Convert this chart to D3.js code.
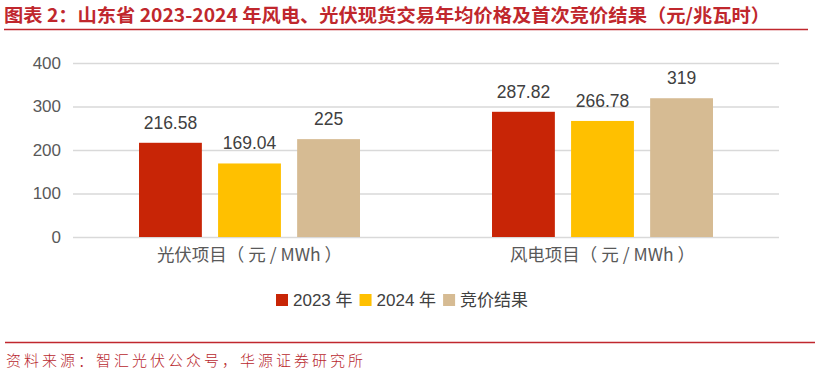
<!DOCTYPE html>
<html>
<head>
<meta charset="utf-8">
<script src="https://cdn.jsdelivr.net/npm/d3@7"></script>
<style>
  body { margin: 0; background: #fff; }
  svg { display: block; }
</style>
</head>
<body>
<div id="chart"></div>
<script>
// 数据
const categories = ['光伏项目（ 元 / MWh ）', '风电项目（ 元 / MWh ）'];
const seriesNames = ['2023 年', '2024 年', '竞价结果'];
const values2023 = [216.58, 287.82];
const values2024 = [169.04, 266.78];
const valuesBid = [225, 319];
const labels2023 = ['216.58', '287.82'];
const labels2024 = ['169.04', '266.78'];
const labelsBid = ['225', '319'];
const yTicks = [0, 100, 200, 300, 400];
const colors = ['#c82506', '#ffc000', '#d6bb93'];

const width = 815, height = 375;
const svg = d3.select('#chart').append('svg')
    .attr('width', width)
    .attr('height', height);

const cjk = '"Noto Sans CJK SC", "Noto Sans", sans-serif';
const num = '"Liberation Sans", Arial, "Noto Sans CJK SC", sans-serif';

// 标题
svg.append('text')
    .attr('x', 4).attr('y', 22)
    .attr('fill', '#c0272d')
    .attr('textLength', 766)
    .attr('lengthAdjust', 'spacingAndGlyphs')
    .style('font-family', cjk)
    .style('font-weight', 'bold')
    .style('font-size', '18.5px')
    .text('图表 2：山东省 2023-2024 年风电、光伏现货交易年均价格及首次竞价结果（元/兆瓦时）');
svg.append('line')
    .attr('x1', 4).attr('x2', 808).attr('y1', 29.5).attr('y2', 29.5)
    .attr('stroke', '#c0272d').attr('stroke-width', 1.5);

// 比例尺
const x0 = d3.scaleBand().domain(categories).range([73, 779]).padding(0);
const x1 = d3.scaleBand().domain(seriesNames)
    .range([x0.bandwidth() * 0.187, x0.bandwidth() * 0.813])
    .paddingInner(0.205).paddingOuter(0);
const y = d3.scaleLinear().domain([0, 400]).range([237, 63]);

// 网格线
svg.append('g')
    .selectAll('line')
    .data(yTicks)
    .join('line')
    .attr('x1', 73).attr('x2', 779)
    .attr('y1', d => y(d) + 0.5).attr('y2', d => y(d) + 0.5)
    .attr('stroke', '#d9d9d9').attr('stroke-width', 1.3);

// Y 轴
const yAxis = svg.append('g')
    .attr('transform', 'translate(61,0)')
    .call(d3.axisLeft(y).tickValues(yTicks).tickSize(0).tickPadding(0));
yAxis.select('.domain').remove();
yAxis.selectAll('text')
    .attr('fill', '#595959')
    .style('font-family', num)
    .style('font-size', '17px');

// X 轴
const xAxis = svg.append('g')
    .attr('transform', 'translate(0,237)')
    .call(d3.axisBottom(x0).tickSize(0).tickPadding(12));
xAxis.select('.domain').remove();
xAxis.selectAll('text')
    .attr('fill', '#595959')
    .style('font-family', cjk)
    .style('font-size', '17.5px');

// 柱子
const series = [
    { name: seriesNames[0], values: values2023, labels: labels2023, color: colors[0] },
    { name: seriesNames[1], values: values2024, labels: labels2024, color: colors[1] },
    { name: seriesNames[2], values: valuesBid, labels: labelsBid, color: colors[2] }
];

const groups = svg.append('g')
    .selectAll('g')
    .data(categories)
    .join('g')
    .attr('transform', d => `translate(${x0(d)},0)`);

groups.each(function (cat, ci) {
    const g = d3.select(this);
    series.forEach(s => {
        g.append('rect')
            .attr('x', x1(s.name))
            .attr('y', y(s.values[ci]))
            .attr('width', x1.bandwidth())
            .attr('height', y(0) - y(s.values[ci]))
            .attr('fill', s.color);
        g.append('text')
            .attr('x', x1(s.name) + x1.bandwidth() / 2)
            .attr('y', y(s.values[ci]) - 14)
            .attr('text-anchor', 'middle')
            .attr('fill', '#404040')
            .style('font-family', num)
            .style('font-size', '17.5px')
            .text(s.labels[ci]);
    });
});

// 图例
const legend = svg.append('g').attr('transform', 'translate(276,300)');
let lx = 0;
series.forEach(s => {
    const item = legend.append('g').attr('transform', `translate(${lx},0)`);
    item.append('rect')
        .attr('x', 0).attr('y', -6)
        .attr('width', 12).attr('height', 12)
        .attr('fill', s.color);
    const t = item.append('text')
        .attr('x', 17).attr('y', 0)
        .attr('dy', '0.35em')
        .attr('fill', '#404040')
        .style('font-family', num)
        .style('font-size', '17px')
        .text(s.name);
    lx += 17 + t.node().getComputedTextLength() + 7;
});

// 资料来源
svg.append('line')
    .attr('x1', 5).attr('x2', 815).attr('y1', 342.5).attr('y2', 342.5)
    .attr('stroke', '#c0272d').attr('stroke-width', 1.5);
svg.append('text')
    .attr('x', 6).attr('y', 366)
    .attr('fill', '#b8282e')
    .style('font-family', cjk)
    .style('font-weight', '300')
    .style('font-size', '15px')
    .style('letter-spacing', '3px')
    .text('资料来源：智汇光伏公众号，华源证券研究所');
</script>
</body>
</html>
